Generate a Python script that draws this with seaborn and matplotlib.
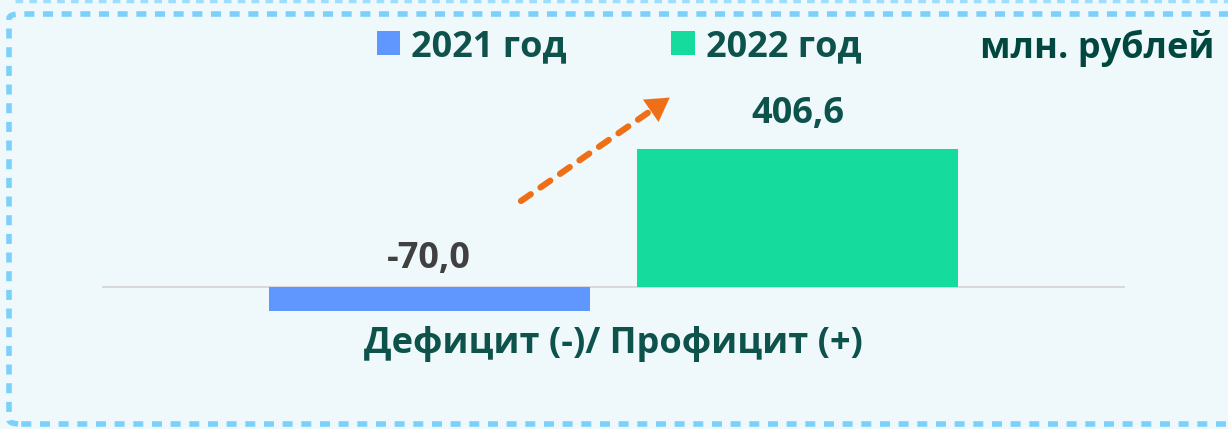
import matplotlib
matplotlib.use("Agg")
import matplotlib.pyplot as plt
import matplotlib.patches as mpatches
import seaborn as sns
import pandas as pd

# Data
category = ["Дефицит (-)/ Профицит (+)"]
years = ["2021 год", "2022 год"]
values = [-70.0, 406.6]
units = "млн. рублей"

colors = ["#5F97FF", "#15DB9D"]
bg = "#EFF9FB"
teal = "#0E524C"
orange = "#EE6F15"

df = pd.DataFrame({
    "cat": category * len(years),
    "year": years,
    "value": values,
})

sns.set_theme(style="white")
plt.rcParams["font.family"] = ["Open Sans", "DejaVu Sans"]
plt.rcParams["font.weight"] = "bold"

W, H = 1228, 429
fig = plt.figure(figsize=(W / 100, H / 100), dpi=100, facecolor=bg)

# axes: x from 102 to 1125 px, y from 60 to 318 px (zero line at 287 px)
ax = fig.add_axes([102 / W, (H - 318) / H, 1023 / W, (318 - 60) / H])
ax.set_facecolor(bg)

sns.barplot(data=df, x="cat", y="value", hue="year", palette=colors,
            width=0.721, gap=0.13, saturation=1, linewidth=0, ax=ax, legend=True)

px_per_unit = 138 / 406.6
ax.set_ylim(-31 / px_per_unit, 227 / px_per_unit)
ax.set_xlim(-0.5, 0.5)
ax.axhline(0, color="#D9D9D9", lw=1.5, zorder=0)
for s in ax.spines.values():
    s.set_visible(False)
ax.set_yticks([])
ax.set_xlabel("")
ax.set_ylabel("")
ax.tick_params(axis="x", length=0, pad=6, labelsize=26, labelcolor=teal)
for t in ax.get_xticklabels():
    t.set_fontweight("bold")

# value labels
label_colors = ["#404040", teal]
offsets = [7, 12]
for bar, v, c, off in zip(ax.patches[:len(values)], values, label_colors, offsets):
    xc = bar.get_x() + bar.get_width() / 2
    ax.annotate(f"{v:.1f}".replace(".", ","), (xc, max(v, 0)),
                xytext=(0, off), textcoords="offset points",
                ha="center", va="bottom", fontsize=26, fontweight="bold", color=c)

# legend
handles, labels = ax.get_legend_handles_labels()
ax.legend(handles, labels, ncol=2, loc="center", frameon=False,
          bbox_to_anchor=(619 / W, 1 - 47 / H), bbox_transform=fig.transFigure,
          handlelength=0.65, handleheight=0.65,
          handletextpad=0.3, columnspacing=2.9, borderpad=0, labelcolor=teal,
          prop={"weight": "bold", "size": 26})

fig.text(1215 / W, 1 - 48 / H, units, ha="right", va="center",
         fontsize=26, fontweight="bold", color="#00473F")

# dashed orange arrow
x0, y0, x1, y1 = 521 / W, 1 - 201 / H, 672 / W, 1 - 96 / H
fig.add_artist(plt.Line2D([x0, x0 + (x1 - x0) * 0.9], [y0, y0 + (y1 - y0) * 0.9],
                          transform=fig.transFigure, color=orange, lw=4.5,
                          dashes=(1.9, 1.9), dash_capstyle="round"))
fig.add_artist(mpatches.FancyArrowPatch(
    (x0 + (x1 - x0) * 0.86, y0 + (y1 - y0) * 0.86), (x1, y1),
    transform=fig.transFigure, arrowstyle="-|>,head_length=11,head_width=6.5",
    color=orange, lw=0.1, mutation_scale=1.5))

# dashed frame
frame = mpatches.FancyBboxPatch((9 / W, 5 / H), 1240 / W, (425 - 15) / H,
                                boxstyle="round,pad=0,rounding_size=0.01",
                                transform=fig.transFigure, fill=False,
                                edgecolor="#7BD0FC", lw=4, linestyle=(0, (1.8, 1.56)))
fig.add_artist(frame)
fig.add_artist(plt.Line2D([15 / W, 1], [1 - 0.8 / H, 1 - 0.8 / H], transform=fig.transFigure,
                          color="#9EDEFC", lw=2.5, linestyle=(0, (2.2, 1.8))))

fig.savefig("out.png", dpi=100, facecolor=bg)
